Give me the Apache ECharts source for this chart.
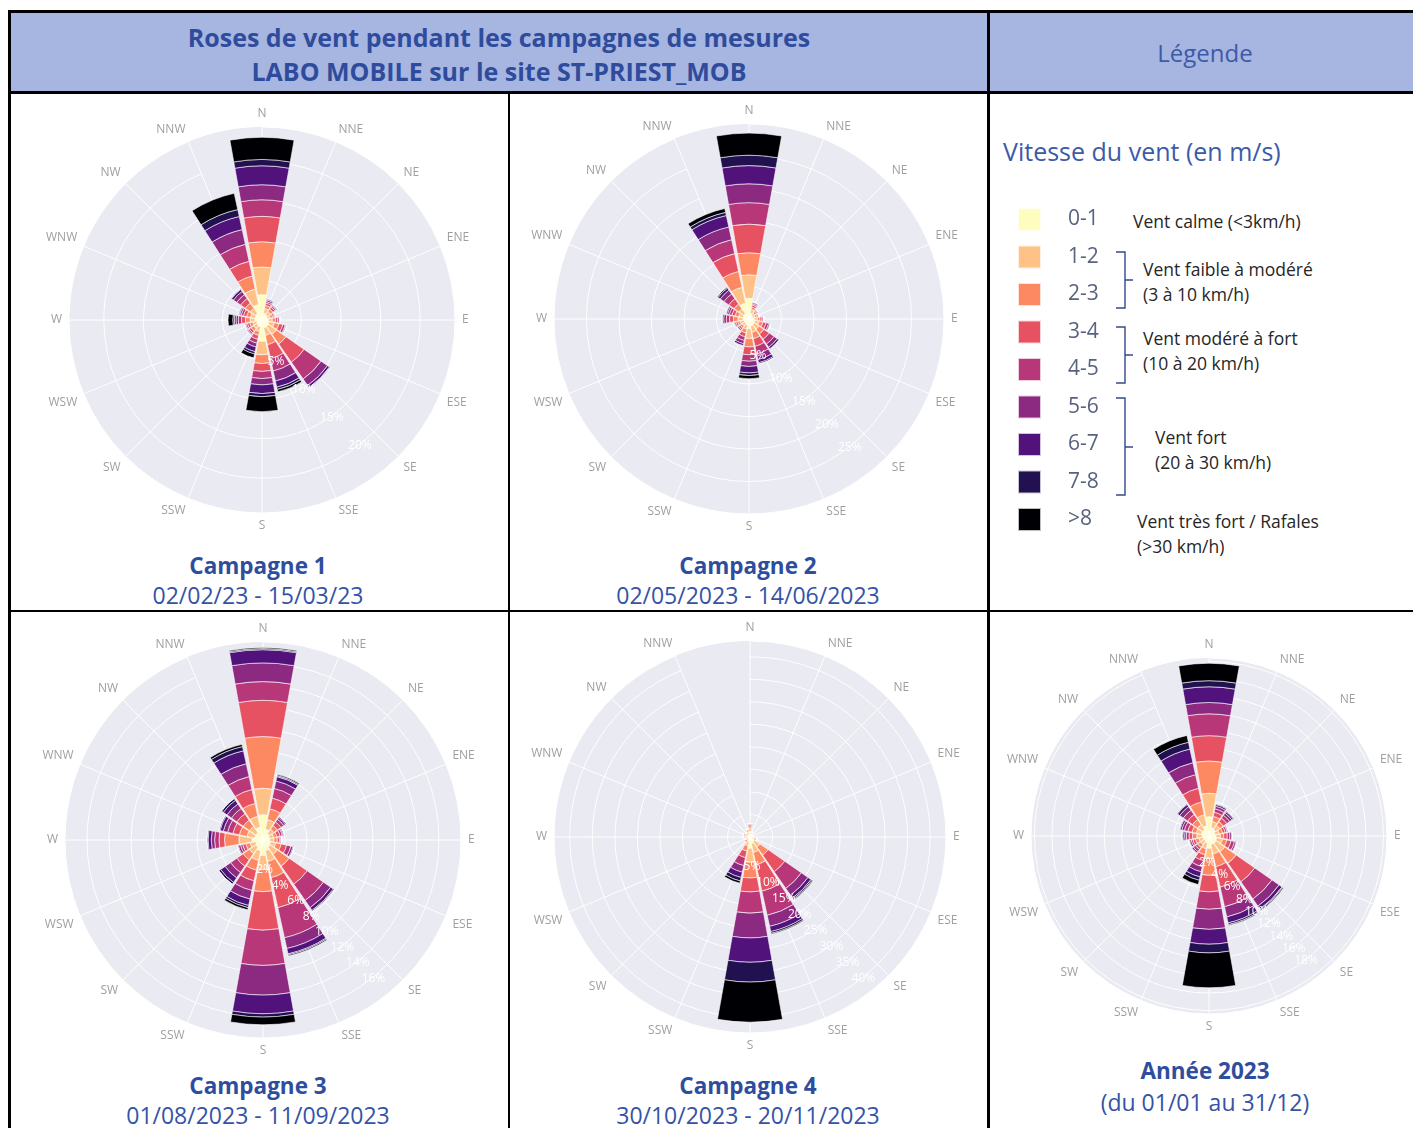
<!DOCTYPE html>
<html lang="fr">
<head>
<meta charset="utf-8">
<title>Roses de vent – ST-PRIEST_MOB</title>
<script src="https://cdn.jsdelivr.net/npm/echarts@6/dist/echarts.min.js"></script>
<style>
  html, body { margin: 0; padding: 0; background: #fff; }
  body { width: 1413px; height: 1128px; position: relative; overflow: hidden;
         font-family: "Open Sans", "Noto Sans", sans-serif; }
  .abs { position: absolute; }
  .line { position: absolute; background: #000; }
  .head { background: #a7b5e1; }
  .title { color: #2f4c9c; font-weight: 700; font-size: 25px; text-align: center; line-height: 34px; white-space: nowrap; }
  .legtitle { color: #3d5aa8; font-size: 25px; white-space: nowrap; }
  .cap { color: #2f4d9d; font-weight: 700; font-size: 22.5px; text-align: center; white-space: nowrap; }
  .date { color: #3453a6; font-size: 23px; text-align: center; white-space: nowrap; }
  .desc { color: #262626; font-size: 17.5px; white-space: nowrap; line-height: 20px; }
  #chart { position: absolute; left: 0; top: 0; width: 1413px; height: 1128px; z-index: 2; }
</style>
</head>
<body>
<!-- table frame -->
<div class="abs head" style="left:10px;top:12px;width:1403px;height:80px;"></div>
<div class="line" style="left:8px;top:10px;width:1405px;height:3px;"></div>
<div class="line" style="left:8px;top:91px;width:1405px;height:3px;"></div>
<div class="line" style="left:8px;top:10px;width:3px;height:1118px;"></div>
<div class="line" style="left:987px;top:10px;width:3px;height:1118px;"></div>
<div class="line" style="left:508px;top:93px;width:2px;height:1035px;"></div>
<div class="line" style="left:8px;top:610px;width:1405px;height:2px;"></div>

<div class="abs title" style="left:11px;top:20px;width:976px;">Roses de vent pendant les campagnes de mesures<br>LABO MOBILE sur le site ST-PRIEST_MOB</div>
<div class="abs" style="left:990px;top:36px;width:430px;text-align:center;color:#3d5aa8;font-size:24px;">Légende</div>

<!-- legend texts -->
<div class="abs legtitle" style="left:1003px;top:134px;">Vitesse du vent (en m/s)</div>
<div class="abs desc" style="left:1133px;top:211px;">Vent calme (&lt;3km/h)</div>
<div class="abs desc" style="left:1143px;top:259px;">Vent faible à modéré<br><span style="line-height:30px">(3 à 10 km/h)</span></div>
<div class="abs desc" style="left:1143px;top:328px;">Vent modéré à fort<br><span style="line-height:30px">(10 à 20 km/h)</span></div>
<div class="abs desc" style="left:1155px;top:427px;">Vent fort<br><span style="line-height:30px">(20 à 30 km/h)</span></div>
<div class="abs desc" style="left:1137px;top:511px;">Vent très fort / Rafales<br><span style="line-height:30px">(&gt;30 km/h)</span></div>
<svg class="abs" style="left:0;top:0;" width="1413" height="1128">
  <g fill="none" stroke="#34498c" stroke-width="1.4">
    <path d="M1116,252 H1125 V308 H1116 M1125,280 H1133"/>
    <path d="M1116,327 H1125 V383 H1116 M1125,355 H1133"/>
    <path d="M1116,398 H1125 V495 H1116 M1125,447 H1133"/>
  </g>
</svg>

<!-- captions -->
<div class="abs cap" style="left:8px;top:550px;width:500px;">Campagne 1</div>
<div class="abs date" style="left:8px;top:579px;width:500px;">02/02/23 - 15/03/23</div>
<div class="abs cap" style="left:498px;top:550px;width:500px;">Campagne 2</div>
<div class="abs date" style="left:498px;top:579px;width:500px;">02/05/2023 - 14/06/2023</div>
<div class="abs cap" style="left:8px;top:1070px;width:500px;">Campagne 3</div>
<div class="abs date" style="left:8px;top:1099px;width:500px;">01/08/2023 - 11/09/2023</div>
<div class="abs cap" style="left:498px;top:1070px;width:500px;">Campagne 4</div>
<div class="abs date" style="left:498px;top:1099px;width:500px;">30/10/2023 - 20/11/2023</div>
<div class="abs cap" style="left:955px;top:1055px;width:500px;">Année 2023</div>
<div class="abs date" style="left:955px;top:1086px;width:500px;">(du 01/01 au 31/12)</div>

<div id="chart"></div>

<script>
// Wind directions, clockwise from north
const DIRECTIONS = ['N', 'NNE', 'NE', 'ENE', 'E', 'ESE', 'SE', 'SSE',
                    'S', 'SSW', 'SW', 'WSW', 'W', 'WNW', 'NW', 'NNW'];
// Wind speed classes (m/s)
const CLASSES = ['0-1', '1-2', '2-3', '3-4', '4-5', '5-6', '6-7', '7-8', '>8'];
const CLASS_COLORS = ['#fcfdbf', '#fec287', '#fc8961', '#e75263', '#b73779',
                      '#8c2981', '#51127c', '#221150', '#000004'];

// Frequency (%) per direction (rows, same order as DIRECTIONS) and speed class (columns)
const campagne1 = [
  [3.2, 3.5, 3.2, 3.2, 2.1, 1.9, 2.4, 0.8, 2.8],
  [0.9, 0.6, 0.4, 0.3, 0.2, 0.2, 0.1, 0.1, 0.0],
  [0.8, 0.5, 0.4, 0.3, 0.2, 0.1, 0.1, 0.0, 0.0],
  [0.7, 0.4, 0.3, 0.2, 0.1, 0.1, 0.0, 0.0, 0.0],
  [0.8, 0.5, 0.4, 0.3, 0.2, 0.1, 0.0, 0.0, 0.0],
  [0.9, 0.7, 0.6, 0.5, 0.3, 0.1, 0.1, 0.0, 0.0],
  [1.0, 1.2, 1.5, 2.8, 2.6, 1.0, 0.3, 0.1, 0.0],
  [1.0, 1.0, 1.2, 1.8, 1.6, 1.3, 0.8, 0.3, 0.3],
  [2.7, 1.7, 1.1, 1.0, 0.9, 0.8, 1.1, 0.4, 1.9],
  [0.9, 0.6, 0.5, 0.5, 0.5, 0.5, 0.6, 0.3, 0.5],
  [0.8, 0.5, 0.4, 0.3, 0.2, 0.1, 0.1, 0.0, 0.0],
  [0.7, 0.5, 0.4, 0.3, 0.2, 0.1, 0.1, 0.0, 0.0],
  [0.9, 0.6, 0.6, 0.5, 0.4, 0.3, 0.2, 0.2, 0.6],
  [0.9, 0.6, 0.5, 0.4, 0.3, 0.2, 0.1, 0.1, 0.0],
  [1.0, 0.8, 0.8, 0.7, 0.6, 0.5, 0.3, 0.1, 0.0],
  [2.0, 2.0, 1.7, 1.9, 2.2, 1.9, 1.7, 0.9, 2.1]
];
const campagne2 = [
  [3.2, 3.6, 3.4, 4.4, 3.3, 2.9, 2.8, 1.6, 3.4],
  [0.9, 0.6, 0.4, 0.3, 0.2, 0.2, 0.1, 0.0, 0.0],
  [0.7, 0.4, 0.3, 0.2, 0.1, 0.1, 0.0, 0.0, 0.0],
  [0.6, 0.4, 0.3, 0.2, 0.1, 0.0, 0.0, 0.0, 0.0],
  [0.8, 0.5, 0.4, 0.3, 0.2, 0.1, 0.0, 0.0, 0.0],
  [0.9, 0.7, 0.6, 0.5, 0.4, 0.2, 0.1, 0.0, 0.0],
  [1.0, 0.9, 0.9, 1.0, 0.9, 0.6, 0.3, 0.1, 0.0],
  [1.1, 1.0, 1.0, 1.2, 1.2, 0.9, 0.5, 0.2, 0.0],
  [1.5, 1.5, 1.3, 1.2, 1.0, 0.8, 1.0, 0.4, 0.5],
  [0.9, 0.7, 0.6, 0.6, 0.6, 0.5, 0.3, 0.1, 0.0],
  [0.8, 0.5, 0.4, 0.3, 0.2, 0.1, 0.0, 0.0, 0.0],
  [0.8, 0.6, 0.4, 0.3, 0.2, 0.1, 0.1, 0.0, 0.0],
  [0.9, 0.8, 0.7, 0.6, 0.5, 0.4, 0.2, 0.1, 0.0],
  [0.9, 0.7, 0.6, 0.5, 0.4, 0.3, 0.2, 0.1, 0.0],
  [1.0, 0.9, 0.9, 1.0, 0.9, 0.7, 0.4, 0.2, 0.0],
  [2.5, 2.5, 2.5, 2.8, 2.2, 2.0, 1.8, 0.5, 0.6]
];
const campagne3 = [
  [2.3, 2.4, 4.7, 3.3, 1.7, 1.7, 1.2, 0.1, 0.1],
  [1.0, 0.9, 1.0, 1.0, 0.9, 0.7, 0.4, 0.1, 0.1],
  [0.7, 0.5, 0.4, 0.4, 0.3, 0.2, 0.1, 0.0, 0.0],
  [0.6, 0.4, 0.3, 0.3, 0.2, 0.1, 0.1, 0.0, 0.0],
  [0.6, 0.4, 0.3, 0.2, 0.1, 0.1, 0.0, 0.0, 0.0],
  [0.7, 0.5, 0.5, 0.5, 0.4, 0.2, 0.1, 0.0, 0.0],
  [0.8, 0.8, 1.3, 2.0, 1.8, 0.8, 0.3, 0.1, 0.0],
  [1.0, 1.0, 1.5, 2.8, 2.8, 1.0, 0.5, 0.1, 0.1],
  [1.4, 1.3, 2.0, 3.5, 3.2, 2.7, 1.7, 0.3, 0.7],
  [1.0, 0.9, 0.9, 1.0, 0.9, 0.8, 0.6, 0.2, 0.2],
  [0.8, 0.7, 0.7, 0.7, 0.7, 0.6, 0.5, 0.2, 0.0],
  [0.7, 0.5, 0.4, 0.3, 0.2, 0.2, 0.1, 0.0, 0.0],
  [1.0, 1.2, 1.3, 0.5, 0.4, 0.3, 0.3, 0.1, 0.0],
  [0.8, 0.7, 0.7, 0.6, 0.5, 0.4, 0.3, 0.1, 0.0],
  [0.8, 0.7, 0.7, 0.7, 0.6, 0.5, 0.4, 0.2, 0.0],
  [1.2, 1.0, 1.2, 1.3, 1.2, 1.2, 1.2, 0.4, 0.2]
];
const campagne4 = [
  [1.2, 0.8, 0.5, 0.3, 0.2, 0.0, 0.0, 0.0, 0.0],
  [0.6, 0.3, 0.2, 0.1, 0.0, 0.0, 0.0, 0.0, 0.0],
  [0.4, 0.2, 0.1, 0.0, 0.0, 0.0, 0.0, 0.0, 0.0],
  [0.3, 0.2, 0.1, 0.0, 0.0, 0.0, 0.0, 0.0, 0.0],
  [0.4, 0.2, 0.1, 0.1, 0.0, 0.0, 0.0, 0.0, 0.0],
  [0.6, 0.4, 0.3, 0.2, 0.1, 0.0, 0.0, 0.0, 0.0],
  [1.2, 1.5, 2.2, 4.5, 4.5, 1.8, 0.8, 0.3, 0.2],
  [1.5, 2.0, 2.8, 6.0, 5.5, 2.5, 1.2, 0.4, 0.2],
  [2.5, 3.1, 3.5, 3.1, 4.7, 5.5, 5.4, 4.4, 8.9],
  [1.0, 1.0, 1.2, 1.5, 1.8, 1.5, 1.2, 0.8, 0.5],
  [0.6, 0.4, 0.3, 0.2, 0.1, 0.0, 0.0, 0.0, 0.0],
  [0.5, 0.3, 0.2, 0.1, 0.0, 0.0, 0.0, 0.0, 0.0],
  [0.6, 0.4, 0.3, 0.2, 0.1, 0.0, 0.0, 0.0, 0.0],
  [0.6, 0.4, 0.3, 0.2, 0.1, 0.1, 0.0, 0.0, 0.0],
  [0.5, 0.3, 0.2, 0.1, 0.1, 0.0, 0.0, 0.0, 0.0],
  [0.7, 0.5, 0.3, 0.2, 0.1, 0.0, 0.0, 0.0, 0.0]
];
const annee2023 = [
  [2.2, 2.7, 3.7, 2.9, 2.5, 1.3, 1.8, 0.7, 2.0],
  [1.0, 0.7, 0.6, 0.5, 0.4, 0.3, 0.2, 0.1, 0.0],
  [0.9, 0.6, 0.5, 0.5, 0.4, 0.3, 0.2, 0.1, 0.0],
  [0.7, 0.5, 0.4, 0.3, 0.2, 0.1, 0.1, 0.0, 0.0],
  [0.8, 0.5, 0.4, 0.4, 0.3, 0.2, 0.1, 0.0, 0.0],
  [0.9, 0.7, 0.5, 0.5, 0.4, 0.2, 0.1, 0.0, 0.0],
  [1.0, 1.2, 1.6, 2.6, 2.4, 1.0, 0.4, 0.1, 0.1],
  [1.0, 1.1, 1.5, 2.4, 2.3, 1.2, 0.7, 0.2, 0.1],
  [1.4, 1.2, 1.9, 1.9, 2.0, 2.3, 1.7, 1.0, 4.0],
  [0.8, 0.7, 0.7, 0.7, 0.7, 0.6, 0.6, 0.4, 0.5],
  [0.7, 0.5, 0.4, 0.3, 0.3, 0.2, 0.1, 0.0, 0.0],
  [0.7, 0.5, 0.4, 0.3, 0.2, 0.2, 0.1, 0.0, 0.0],
  [0.8, 0.6, 0.5, 0.4, 0.3, 0.2, 0.2, 0.1, 0.0],
  [0.9, 0.6, 0.5, 0.5, 0.4, 0.3, 0.2, 0.1, 0.0],
  [0.9, 0.7, 0.7, 0.7, 0.6, 0.5, 0.3, 0.1, 0.0],
  [1.2, 1.3, 1.5, 1.6, 1.6, 1.4, 1.6, 0.8, 0.8]
];

// Radial scale of each rose: upper bound and tick step (%)
const radialMax  = [24.4, 30.0, 18.0, 43.5, 20.4];
const radialStep = [5, 5, 2, 5, 2];
// Percentage tick labels written along the radius
const tickLabels1 = [5, 10, 15, 20];
const tickLabels2 = [5, 10, 15, 20, 25];
const tickLabels3 = [2, 4, 6, 8, 10, 12, 14, 16];
const tickLabels4 = [5, 10, 15, 20, 25, 30, 35, 40];
const tickLabels5 = [2, 4, 6, 8, 10, 12, 14, 16, 18];

// Placement of each rose on the page
const roses = [
  { data: campagne1, ticks: tickLabels1, center: [262, 320], radius: 193 },
  { data: campagne2, ticks: tickLabels2, center: [749, 319], radius: 195 },
  { data: campagne3, ticks: tickLabels3, center: [263, 840], radius: 198 },
  { data: campagne4, ticks: tickLabels4, center: [750, 837], radius: 196 },
  { data: annee2023, ticks: tickLabels5, center: [1209, 836], radius: 178 }
];
// the percentage labels run parallel to the south-east radius, set off to its south-west side
const LABEL_OFFSET = 14;

const FONT = '"Open Sans", "Noto Sans", sans-serif';
const polar = [], angleAxis = [], radiusAxis = [], series = [];
const hidden = { axisLine: { show: false }, axisTick: { show: false } };

roses.forEach((rose, i) => {
  const back = 3 * i, main = 3 * i + 1, overlay = 3 * i + 2;
  const [cx, cy] = rose.center;
  polar.push({ center: rose.center, radius: rose.radius });
  polar.push({ center: rose.center, radius: rose.radius });
  polar.push({ center: [cx - LABEL_OFFSET, cy + LABEL_OFFSET], radius: rose.radius });

  // disc background
  angleAxis.push({ polarIndex: back, type: 'value', min: 0, max: 360, show: false });
  radiusAxis.push(Object.assign({
    polarIndex: back, type: 'value', min: 0, max: radialMax[i], interval: radialStep[i], z: 0,
    axisLabel: { show: false }, splitLine: { show: false },
    splitArea: { show: true, areaStyle: { color: ['#e9eaf2'] } }
  }, hidden));

  // compass directions with spokes, and the percentage circles
  angleAxis.push(Object.assign({
    polarIndex: main, type: 'category', data: DIRECTIONS,
    startAngle: 90, clockwise: true, boundaryGap: false, z: 1,
    axisLabel: { color: '#9f9f9f', fontSize: 12, fontFamily: FONT, margin: 7 },
    splitLine: { show: true, lineStyle: { color: '#ffffff', width: 1 } }
  }, hidden));
  radiusAxis.push(Object.assign({
    polarIndex: main, type: 'value', min: 0, max: radialMax[i], interval: radialStep[i], z: 1,
    axisLabel: { show: false },
    splitLine: { show: true, lineStyle: { color: '#ffffff', width: 1 } }
  }, hidden));

  // percentage labels
  angleAxis.push({ polarIndex: overlay, type: 'value', min: 0, max: 360, startAngle: -45, show: false });
  radiusAxis.push(Object.assign({
    polarIndex: overlay, type: 'value', min: 0, max: radialMax[i], interval: radialStep[i], z: 10,
    splitLine: { show: false },
    axisLabel: {
      color: '#ffffff', fontSize: 12, fontFamily: FONT,
      formatter: v => (rose.ticks.includes(v) ? v + '%' : ''),
      margin: 0, align: 'center', verticalAlign: 'middle'
    }
  }, hidden));

  CLASSES.forEach((cls, k) => {
    series.push({
      type: 'bar', name: cls, coordinateSystem: 'polar', polarIndex: main,
      stack: 'rose' + i, barCategoryGap: '10%',
      data: rose.data.map(row => row[k]),
      itemStyle: { color: CLASS_COLORS[k], borderColor: 'rgba(255,255,255,0.75)', borderWidth: 0.8 },
      emphasis: { disabled: true }, silent: true, z: 3
    });
  });
});

const chart = echarts.init(document.getElementById('chart'), null, { renderer: 'canvas' });
chart.setOption({
  animation: false,
  backgroundColor: 'transparent',
  polar, angleAxis, radiusAxis, series,
  legend: {
    data: CLASSES, orient: 'vertical', left: 1017, top: 207, padding: 0,
    icon: 'rect', itemWidth: 23, itemHeight: 23, itemGap: 12.5,
    selectedMode: false,
    textStyle: { color: '#59637f', fontSize: 21, fontFamily: FONT, padding: [0, 0, 0, 22] }
  }
});
</script>
</body>
</html>
